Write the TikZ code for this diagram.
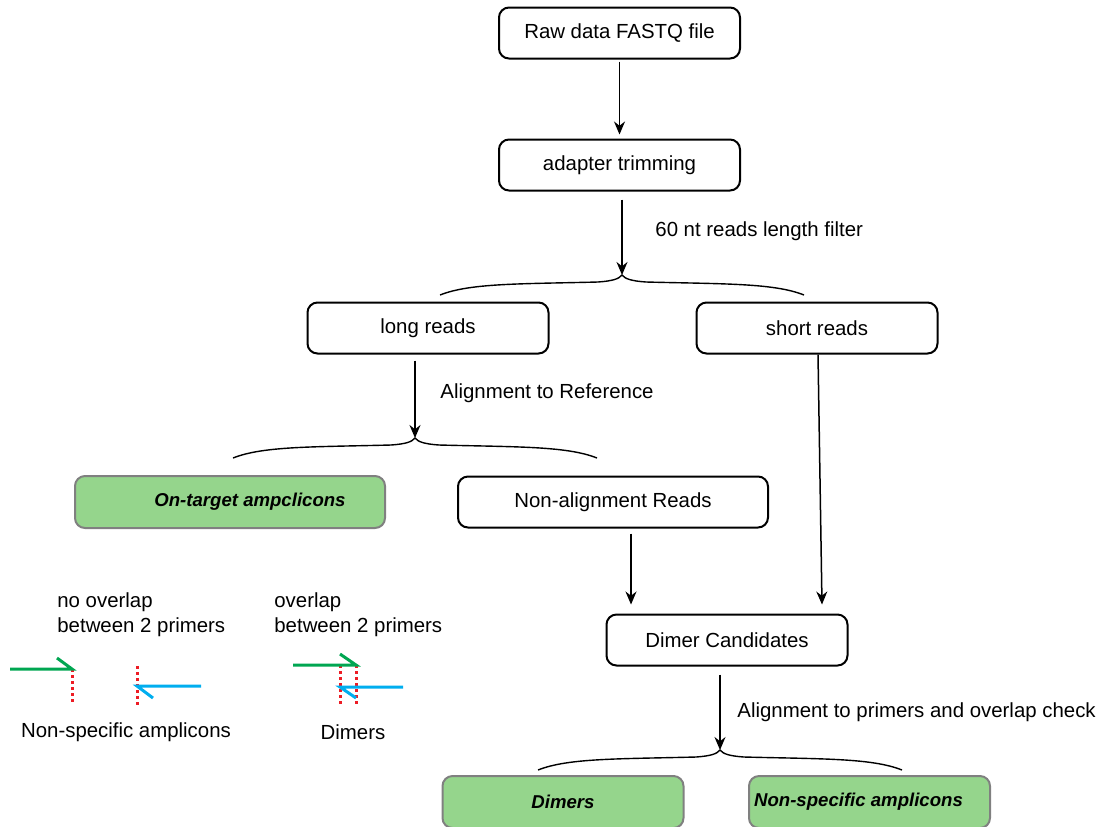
\documentclass[tikz,border=0pt]{standalone}
\usepackage{fontspec}
\setmainfont{Liberation Sans}
\usetikzlibrary{positioning,arrows.meta}
\definecolor{resultgreen}{RGB}{149,213,140}
\definecolor{primergreen}{RGB}{0,166,81}
\definecolor{primerblue}{RGB}{0,174,239}
\definecolor{cutred}{RGB}{237,28,36}

\begin{document}
\begin{tikzpicture}[x=0.5pt, y=-0.5pt, >={Stealth[length=6.5pt, width=5.5pt]}, font=\fontsize{10.2}{12}\selectfont]
    \useasboundingbox (0,0) rectangle (1096,826);
    % Define styles
    \tikzstyle{step_box} = [draw, rounded corners=5pt, line width=1pt, minimum width=120.5pt, minimum height=25.5pt]
    \tikzstyle{wide_box} = [step_box, minimum width=155pt]
    \tikzstyle{result_box} = [draw=gray, rounded corners=5pt, line width=1pt, fill=resultgreen, minimum width=120.5pt, minimum height=26pt, font=\fontsize{9.3}{11}\selectfont\bfseries\itshape]
    \tikzstyle{flow} = [->, line width=0.75pt]
    \tikzstyle{fwd_primer} = [primergreen, line width=1.5pt]
    \tikzstyle{rev_primer} = [primerblue, line width=1.5pt]
    \tikzstyle{cut_line} = [cutred, line width=1.5pt, dash pattern=on 1.5pt off 1.5pt]
    \tikzstyle{note} = [anchor=west, align=left, inner sep=0pt, font=\fontsize{10.2}{12.5}\selectfont]

    % MAIN FLOW
    \node (raw_fastq) [step_box] at (619.5,33) {Raw data FASTQ file};
    \node (adapter_trim) [step_box, below=39.5pt of raw_fastq] {adapter trimming};
    \coordinate (split1) at (622,275);

    \node (long_reads) [step_box] at (428,328) {long reads};
    \node (short_reads) [step_box] at (817,328) {short reads};
    \coordinate (split2) at (415,438);

    \node (on_target) [result_box, minimum width=155pt] at (230,502) {\hspace*{20pt}On-target ampclicons};
    \node (non_align) [wide_box] at (613,502) {Non-alignment Reads};

    \node (dimer_cand) [step_box] at (727,640) {Dimer Candidates};
    \coordinate (split3) at (720,750);

    \node (dimers_out) [result_box] at (563,802) {Dimers};
    \node (nonspec_out) [result_box] at (869.5,802) {\hspace*{-11pt}Non-specific amplicons};

    % CONNECTIONS
    \draw[flow, shorten <=1pt, shorten >=2pt] (raw_fastq) -- (adapter_trim);
    \draw[flow, shorten <=4pt] (adapter_trim.south -| split1) -- (split1);
    \draw[flow, shorten <=3pt] (long_reads.south -| split2) -- (split2);
    \draw[flow] ([xshift=0.5pt]short_reads.south) -- ([xshift=47.5pt, yshift=4.5pt]dimer_cand.north);
    \draw[flow, shorten <=2.5pt] ([xshift=9pt]non_align.south) -- ([xshift=9pt, yshift=4.5pt]non_align.south |- dimer_cand.north);
    \draw[flow, shorten <=4pt] (dimer_cand.south -| split3) -- (split3);

    % Splits
    \foreach \tip in {split1,split2,split3}
        \draw[line width=0.7pt, shift={(\tip)}] (-182,20) .. controls (-152,8) and (-102,9) .. (-24,7)
            .. controls (-10,6) and (-3,4) .. (0,0) .. controls (3,4) and (10,6) .. (24,7)
            .. controls (102,9) and (152,8) .. (182,20);

    % Labels
    \node (filter_lbl) [note] at (655,231) {60 nt reads length filter};
    \node (align_ref_lbl) [note] at (440,393) {Alignment to Reference};
    \node (align_primer_lbl) [note] at (737,712) {Alignment to primers and overlap check};

    % Primer sketches
    \node (no_overlap_lbl) [note] at (57,615) {no overlap\\between 2 primers};
    \node (overlap_lbl) [note] at (274,615) {overlap\\between 2 primers};

    \draw[cut_line] (72,669) -- (72,705);
    \draw[cut_line] (137,666) -- (137,705);
    \draw[fwd_primer] (10,669) -- (72,669) -- (57,658);
    \draw[rev_primer] (201,686) -- (137,686) -- (153,698);

    \draw[cut_line] (340,665) -- (340,707);
    \draw[cut_line] (356,665) -- (356,707);
    \draw[fwd_primer] (293,665) -- (356,665) -- (340,654);
    \draw[rev_primer] (403,687) -- (340,687) -- (356,698);

    \node (nonspec_lbl) at (126,732) {Non-specific amplicons};
    \node (dimers_lbl) at (353,732) {Dimers};
\end{tikzpicture}
\end{document}
